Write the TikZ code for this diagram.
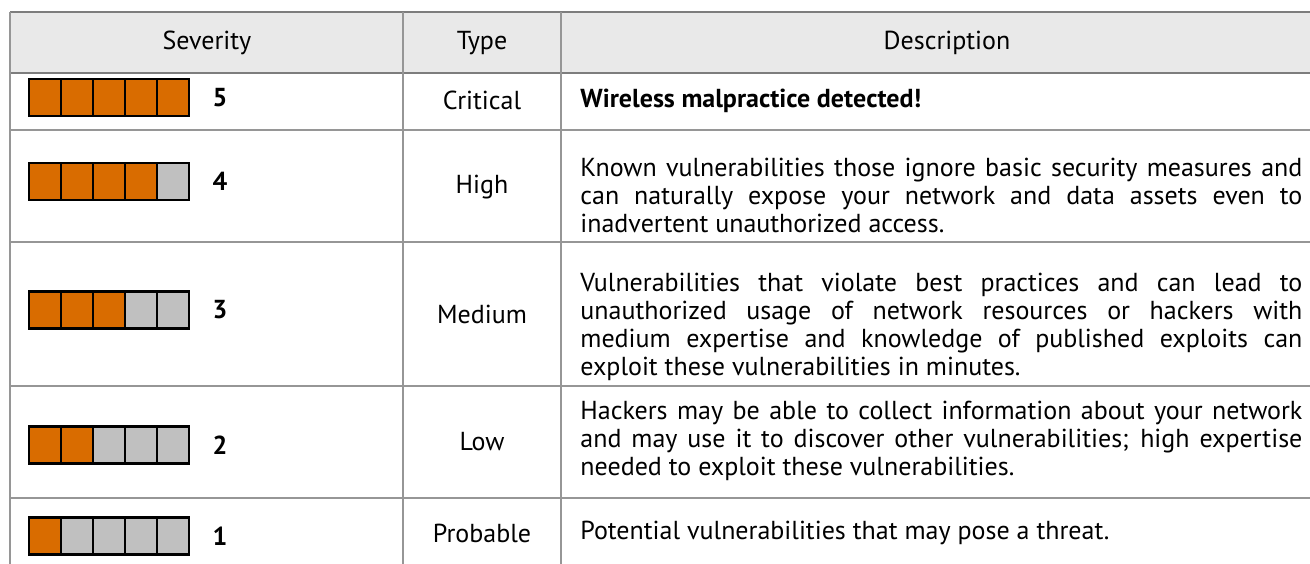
\documentclass[tikz,border=0pt]{standalone}
\usepackage{fontspec}
\setmainfont{PT Sans}
\usetikzlibrary{positioning}
\definecolor{sevorange}{RGB}{217,108,0}
\definecolor{sevgray}{RGB}{192,192,192}
\definecolor{headfill}{RGB}{233,233,233}
\definecolor{gridline}{RGB}{150,150,150}
\definecolor{headline}{RGB}{125,125,125}

\begin{document}
\begin{tikzpicture}[x=0.5pt,y=-0.5pt]
\tikzset{
    celltext/.style = {inner sep=0pt, font=\fontsize{13}{14}\selectfont},
    desctext/.style = {celltext, anchor=west, text width=361pt, align=justify},
    levelnum/.style = {inner sep=0pt, font=\fontsize{13}{14}\selectfont\bfseries},
    sevcell/.style = {draw=black, line width=1.2pt, minimum width=16pt, minimum height=18.5pt, inner sep=0pt},
    gridrule/.style = {draw=gridline, line width=1pt},
    headrule/.style = {draw=headline, line width=1pt}
}
\useasboundingbox (0,0) rectangle (1310,563);

% header
\fill[headfill] (10,12) rectangle (1333,73);
\draw[headrule] (10,12) -- (1333,12);
\draw[headrule] (10,73) -- (1333,73);
\draw[gridrule] (10,130) -- (1333,130);
\draw[gridrule] (10,242) -- (1333,242);
\draw[gridrule] (10,386) -- (1333,386);
\draw[gridrule] (10,498) -- (1333,498);
\draw[gridrule] (10,12) -- (10,570);
\draw[gridrule] (403,12) -- (403,570);
\draw[gridrule] (561,12) -- (561,570);

\node (hdsev) [celltext] at (207,43) {Severity};
\node (hdtype) [celltext] at (482,43) {Type};
\node (hddesc) [celltext] at (947,43) {Description};

% severity bars
\foreach \lvl/\yy in {5/97.5, 4/181.5, 3/310, 2/445, 1/536} {
    \foreach \i in {1,...,5} {
        \ifnum\i>\lvl \def\cellcol{sevgray}\else \def\cellcol{sevorange}\fi
        \node (bar\lvl-\i) [sevcell, fill=\cellcol] at (13+32*\i,\yy) {};
    }
    \node (num\lvl) [levelnum] at (220,\yy) {\lvl};
}

\node (type5) [celltext] at (482,100) {Critical};
\node (type4) [celltext] at (482,187) {High};
\node (type3) [celltext] at (482,314) {Medium};
\node (type2) [celltext] at (482,442) {Low};
\node (type1) [celltext] at (482,533) {Probable};

\node (desc5) [desctext, font=\fontsize{13}{14}\selectfont\bfseries] at (580,101) {Wireless malpractice detected!};
\node (desc4) [desctext] at (580,195) {Known vulnerabilities those ignore basic security measures and\linebreak can naturally expose your network and data assets even to\linebreak inadvertent unauthorized access.};
\node (desc3) [desctext] at (580,327) {Vulnerabilities that violate best practices and can lead to\linebreak unauthorized usage of network resources or hackers with\linebreak medium expertise and knowledge of published exploits can\linebreak exploit these vulnerabilities in minutes.};
\node (desc2) [desctext] at (580,441) {Hackers may be able to collect information about your network\linebreak and may use it to discover other vulnerabilities; high expertise\linebreak needed to exploit these vulnerabilities.};
\node (desc1) [desctext] at (580,533) {Potential vulnerabilities that may pose a threat.};

\end{tikzpicture}
\end{document}
